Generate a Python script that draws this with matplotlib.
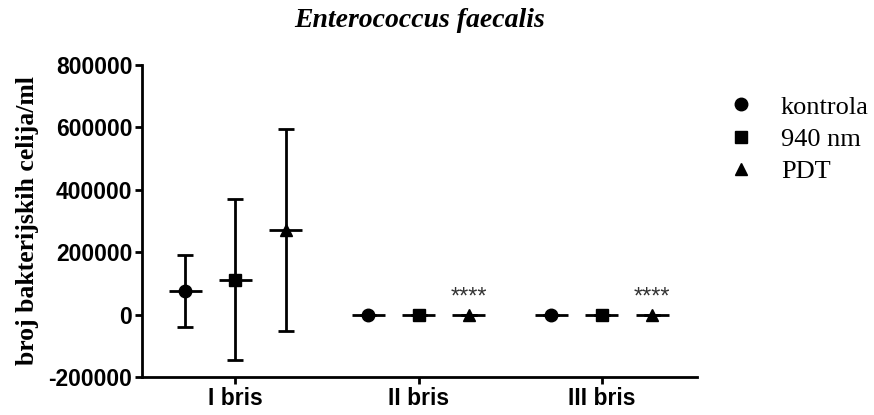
import matplotlib
matplotlib.use("Agg")
import matplotlib.pyplot as plt
from matplotlib.lines import Line2D
import numpy as np

categories = ["I bris", "II bris", "III bris"]
groups = ["kontrola", "940 nm", "PDT"]
means = {
    "kontrola": [75000, 0, 0],
    "940 nm": [112000, 0, 0],
    "PDT": [272000, 0, 0],
}
errs = {
    "kontrola": [116000, 0, 0],
    "940 nm": [258000, 0, 0],
    "PDT": [324000, 0, 0],
}
markers = {"kontrola": "o", "940 nm": "s", "PDT": "^"}
signif = ["", "****", "****"]
yticks = [-200000, 0, 200000, 400000, 600000, 800000]

fig = plt.figure(figsize=(8.74, 4.15), dpi=100)
ax = fig.add_axes([0.1625, 0.0916, 0.635, 0.7518])

x = np.arange(len(categories))
offsets = [-0.275, 0.0, 0.275]
half = 0.09
for g, off in zip(groups, offsets):
    xs = x + off
    m = np.array(means[g])
    e = np.array(errs[g])
    ax.errorbar(xs, m, yerr=e, fmt="none", ecolor="black", elinewidth=2,
                capsize=6, capthick=2, zorder=2)
    ax.hlines(m, xs - half, xs + half, colors="black", linewidth=2, zorder=2)
    ax.plot(xs, m, linestyle="none", marker=markers[g], color="black",
            markersize=9 if markers[g] != "^" else 8, zorder=3)

for i, s in enumerate(signif):
    if s:
        ax.annotate(s, xy=(x[i] + offsets[2], means["PDT"][i] + errs["PDT"][i]),
                    xytext=(0, 4), textcoords="offset points", ha="center",
                    va="bottom", fontsize=17, color="#333333",
                    family="Liberation Sans")

ax.set_xlim(-0.51, 2.52)
ax.set_ylim(-200000, 800000)
ax.set_yticks(yticks)
ax.set_yticklabels([str(v) for v in yticks])
ax.set_xticks(x)
ax.set_xticklabels(categories)
for lab in ax.get_xticklabels() + ax.get_yticklabels():
    lab.set_fontfamily("Liberation Sans")
    lab.set_fontweight("bold")
    lab.set_fontsize(16.5)
ax.spines["top"].set_visible(False)
ax.spines["right"].set_visible(False)
ax.spines["left"].set_linewidth(2)
ax.spines["bottom"].set_linewidth(2)
ax.tick_params(axis="both", width=2, length=5, pad=2)

ax.set_ylabel("broj bakterijskih celija/ml", fontsize=18.5, fontweight="bold",
              family="Liberation Serif", labelpad=7)
ax.set_title("Enterococcus faecalis", fontsize=20, fontweight="bold",
             style="italic", family="Liberation Serif", pad=27)

handles = [Line2D([], [], linestyle="none", marker=markers[g], color="black",
                  markersize=9 if markers[g] != "^" else 8) for g in groups]
fig.legend(handles, groups, loc="upper left", bbox_to_anchor=(0.806, 0.828),
           frameon=False, prop={"family": "Liberation Serif", "size": 19},
           handletextpad=1.0, labelspacing=0.33, handlelength=1.0)

fig.savefig("out.png", dpi=100)
